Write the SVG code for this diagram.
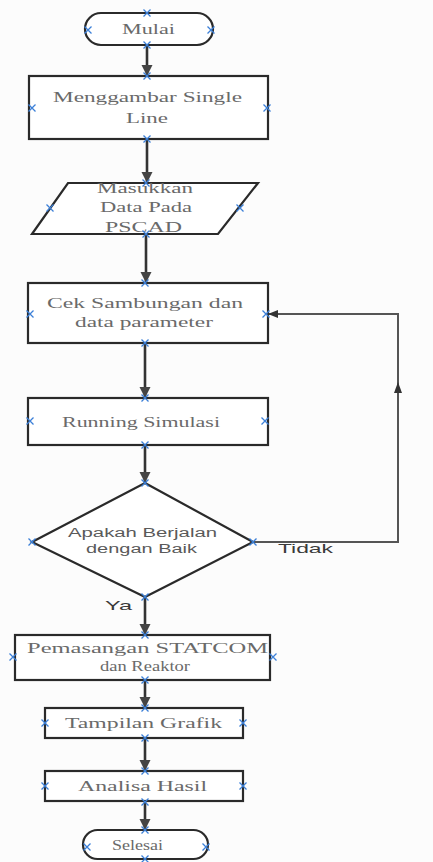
<svg xmlns="http://www.w3.org/2000/svg" width="433" height="862" viewBox="0 0 433 862">
<style>
.bg{fill:#fcfcfc}
.shape{fill:#ffffff;stroke:#2a2a2a;stroke-width:2.2}
.t{font-family:"Liberation Serif","Times New Roman",serif;font-size:15px;fill:#6a6a6a}
.s{font-family:"Liberation Sans",Arial,sans-serif;font-size:12px;fill:#5a5a5a}
.lbl{font-family:"Liberation Sans",Arial,sans-serif;font-size:13px;fill:#3a3a3a}
.c{fill:none;stroke:#333;stroke-width:2.6}
.loop{fill:none;stroke:#555;stroke-width:2}
.x{stroke:#3b7fd8;stroke-width:1.3;fill:none}
</style>
<defs>
<marker id="ah" viewBox="0 0 10 10" refX="10" refY="5" markerWidth="4.4" markerHeight="4.4" orient="auto" markerUnits="strokeWidth">
<path d="M0,0 L10,5 L0,10 z" fill="#444"/>
</marker>
<marker id="ah2" viewBox="0 0 10 10" refX="10" refY="5" markerWidth="5" markerHeight="5" orient="auto" markerUnits="strokeWidth">
<path d="M0,1 L10,5 L0,9 z" fill="#333"/>
</marker>
<symbol id="xm" viewBox="-4 -4 8 8" width="8" height="8" overflow="visible">
<path class="x" d="M-3.5,-3.5 L3.5,3.5 M-3.5,3.5 L3.5,-3.5"/>
</symbol>
</defs>
<rect class="bg" x="0" y="0" width="433" height="862"/>

<g id="connectors">
<path class="c" d="M147,45 L147,76" marker-end="url(#ah)"/>
<path class="c" d="M147,139 L147,183" marker-end="url(#ah)"/>
<path class="c" d="M146,234 L146,283" marker-end="url(#ah)"/>
<path class="c" d="M145,343 L145,398" marker-end="url(#ah)"/>
<path class="c" d="M145,445 L145,483" marker-end="url(#ah)"/>
<path class="c" d="M145,597 L145,635" marker-end="url(#ah)"/>
<path class="c" d="M145,680 L145,708" marker-end="url(#ah)"/>
<path class="c" d="M145,738 L145,771" marker-end="url(#ah)"/>
<path class="c" d="M145,801 L145,830" marker-end="url(#ah)"/>
<path class="loop" d="M253,542 L398,542 L398,314 L268,314" marker-end="url(#ah2)"/>
<path d="M398,382 L394,393 L402,393 z" fill="#333"/>
<text class="lbl" x="278" y="553" textLength="55" lengthAdjust="spacingAndGlyphs">Tidak</text>
<text class="lbl" x="105" y="610" textLength="27" lengthAdjust="spacingAndGlyphs">Ya</text>
</g>

<g id="mulai">
<rect class="shape" x="85" y="13" width="128" height="32" rx="16"/>
<text class="t" x="122" y="34" textLength="53" lengthAdjust="spacingAndGlyphs">Mulai</text>
</g>

<g id="menggambar">
<rect class="shape" x="29" y="76" width="239" height="63"/>
<text class="t" x="53" y="102" textLength="189" lengthAdjust="spacingAndGlyphs">Menggambar Single</text>
<text class="t" x="126" y="123" textLength="42" lengthAdjust="spacingAndGlyphs">Line</text>
</g>

<g id="masukkan">
<polygon class="shape" points="68,183 258,183 218,234 32,234"/>
<text class="t" x="97" y="193" textLength="96" lengthAdjust="spacingAndGlyphs">Masukkan</text>
<text class="t" x="100" y="212" textLength="92" lengthAdjust="spacingAndGlyphs">Data Pada</text>
<text class="t" x="105" y="232" textLength="77" lengthAdjust="spacingAndGlyphs">PSCAD</text>
</g>

<g id="cek">
<rect class="shape" x="28" y="283" width="240" height="60"/>
<text class="t" x="47" y="308" textLength="196" lengthAdjust="spacingAndGlyphs">Cek Sambungan dan</text>
<text class="t" x="75" y="327" textLength="138" lengthAdjust="spacingAndGlyphs">data parameter</text>
</g>

<g id="running">
<rect class="shape" x="28" y="398" width="240" height="47"/>
<text class="t" x="62" y="427" textLength="158" lengthAdjust="spacingAndGlyphs">Running Simulasi</text>
</g>

<g id="decision">
<polygon class="shape" points="145,483 253,542 145,597 32,542"/>
<text class="s" x="68" y="537" textLength="149" lengthAdjust="spacingAndGlyphs">Apakah Berjalan</text>
<text class="s" x="86" y="553" textLength="111" lengthAdjust="spacingAndGlyphs">dengan Baik</text>
</g>

<g id="pemasangan">
<rect class="shape" x="15" y="635" width="255" height="45"/>
<text class="t" x="27" y="653" textLength="241" lengthAdjust="spacingAndGlyphs">Pemasangan STATCOM</text>
<text class="t" x="100" y="671" textLength="90" lengthAdjust="spacingAndGlyphs">dan Reaktor</text>
</g>

<g id="tampilan">
<rect class="shape" x="45" y="708" width="198" height="30"/>
<text class="t" x="65" y="728" textLength="157" lengthAdjust="spacingAndGlyphs">Tampilan Grafik</text>
</g>

<g id="analisa">
<rect class="shape" x="45" y="771" width="198" height="30"/>
<text class="t" x="78" y="791" textLength="129" lengthAdjust="spacingAndGlyphs">Analisa Hasil</text>
</g>

<g id="selesai">
<rect class="shape" x="83" y="830" width="125" height="29" rx="14.5"/>
<text class="t" x="112" y="850" textLength="51" lengthAdjust="spacingAndGlyphs">Selesai</text>
</g>

<g id="connection-points">
<use href="#xm" x="143" y="9"/><use href="#xm" x="143" y="41"/><use href="#xm" x="84" y="26"/><use href="#xm" x="207" y="26"/>
<use href="#xm" x="143" y="72"/><use href="#xm" x="143" y="135"/><use href="#xm" x="28" y="104"/><use href="#xm" x="263" y="104"/>
<use href="#xm" x="142" y="179"/><use href="#xm" x="142" y="230"/><use href="#xm" x="46" y="204"/><use href="#xm" x="236" y="204"/>
<use href="#xm" x="141" y="279"/><use href="#xm" x="141" y="339"/><use href="#xm" x="26" y="310"/><use href="#xm" x="262" y="310"/>
<use href="#xm" x="141" y="394"/><use href="#xm" x="141" y="441"/><use href="#xm" x="26" y="417"/><use href="#xm" x="261" y="417"/>
<use href="#xm" x="141" y="479"/><use href="#xm" x="141" y="593"/><use href="#xm" x="28" y="538"/><use href="#xm" x="249" y="538"/>
<use href="#xm" x="141" y="631"/><use href="#xm" x="141" y="676"/><use href="#xm" x="9" y="653"/><use href="#xm" x="269" y="653"/>
<use href="#xm" x="141" y="704"/><use href="#xm" x="141" y="734"/><use href="#xm" x="41" y="719"/><use href="#xm" x="239" y="719"/>
<use href="#xm" x="141" y="767"/><use href="#xm" x="141" y="798"/><use href="#xm" x="41" y="782"/><use href="#xm" x="239" y="782"/>
<use href="#xm" x="141" y="826"/><use href="#xm" x="141" y="855"/><use href="#xm" x="83" y="843"/><use href="#xm" x="202" y="843"/>
</g>
</svg>
